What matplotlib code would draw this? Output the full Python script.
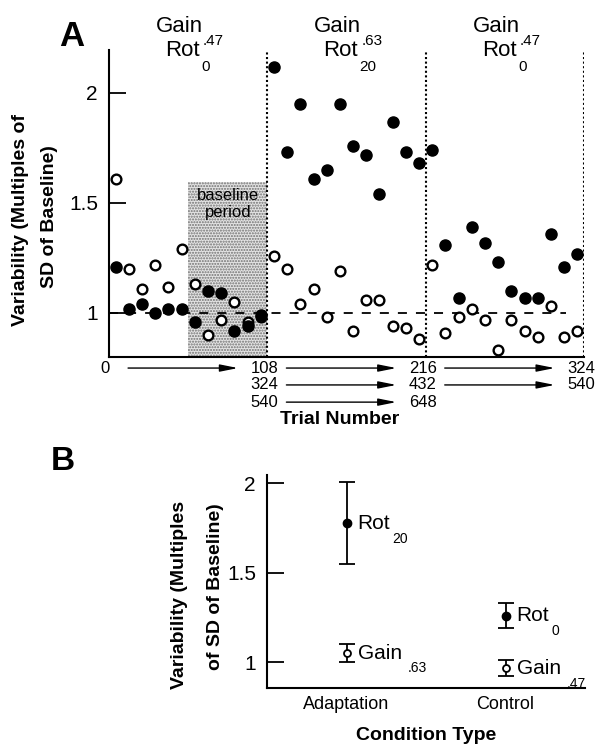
import numpy as np
import matplotlib
matplotlib.use("Agg")
import matplotlib.pyplot as plt

plt.rcParams['font.family'] = ['Liberation Sans', 'DejaVu Sans']
NARROW = ['Liberation Sans Narrow', 'Liberation Sans', 'DejaVu Sans']

# ------------------------------------------------------------
# Panel A data: 12 bins of 9 trials per 108-trial block
# ------------------------------------------------------------
bin_width = 9
block_len = 108
block_starts = [0, 108, 216]

filled_a = [
    [1.21, 1.02, 1.04, 1.00, 1.02, 1.02, 0.96, 1.10, 1.09, 0.92, 0.94, 0.99],
    [2.12, 1.73, 1.95, 1.61, 1.65, 1.95, 1.76, 1.72, 1.54, 1.87, 1.73, 1.68],
    [1.74, 1.31, 1.07, 1.39, 1.32, 1.23, 1.10, 1.07, 1.07, 1.36, 1.21, 1.27],
]
open_a = [
    [1.61, 1.20, 1.11, 1.22, 1.12, 1.29, 1.13, 0.90, 0.97, 1.05, 0.96, 0.98],
    [1.26, 1.20, 1.04, 1.11, 0.98, 1.19, 0.92, 1.06, 1.06, 0.94, 0.93, 0.88],
    [1.22, 0.91, 0.98, 1.02, 0.97, 0.83, 0.97, 0.92, 0.89, 1.03, 0.89, 0.92],
]
gain_labels = [".47", ".63", ".47"]
rot_labels = ["0", "20", "0"]

row1_labels = ["108", "216", "324"]
row2_labels = ["324", "432", "540"]
row3_labels = ["540", "648"]

baseline_start, baseline_end = 54, 108

# ------------------------------------------------------------
# Panel B data
# ------------------------------------------------------------
conditions = ["Adaptation", "Control"]
rot_mean = [1.775, 1.26]
rot_err = [0.23, 0.07]
rot_names = ["20", "0"]
gain_mean = [1.05, 0.965]
gain_err = [0.05, 0.045]
gain_names = [".63", ".47"]

fig = plt.figure(figsize=(5.97, 7.48), dpi=100)

# ------------------------------------------------------------
# Panel A
# ------------------------------------------------------------
ax = fig.add_axes([109 / 597, 1 - 357 / 748, 475 / 597, 307 / 748])
ax.set_xlim(0, 324)
ax.set_ylim(0.8, 2.195)

ax.bar(baseline_start, 1.595 - 0.8, width=baseline_end - baseline_start,
       bottom=0.8, align="edge", facecolor="#e4e4e4", edgecolor="#707070",
       hatch="......", linewidth=0, zorder=0)
ax.text((baseline_start + baseline_end) / 2, 1.535, "baseline", ha="center",
        va="center", fontsize=12, zorder=1)
ax.text((baseline_start + baseline_end) / 2, 1.455, "period", ha="center",
        va="center", fontsize=12, zorder=1)

ax.plot([0, 312], [1, 1], color="k", lw=1.3, ls=(0, (5, 5)), zorder=1)

for s, fv, ov in zip(block_starts, filled_a, open_a):
    xs = s + bin_width / 2 + bin_width * np.arange(len(fv))
    ax.plot(xs, ov, "o", ms=7, mfc="white", mec="k", mew=1.7, ls="none", zorder=3)
    ax.plot(xs, fv, "o", ms=8, mfc="k", mec="k", ls="none", zorder=4)
    ax.axvline(s + block_len, color="k", lw=1.5, ls=(0, (1, 1.2)), zorder=2)

# block headers
for s, g, r in zip(block_starts, gain_labels, rot_labels):
    ax.text(s + 48, 2.30, "Gain", ha="center", va="center", fontsize=16, clip_on=False)
    ax.text(s + 50, 2.195, "Rot", ha="center", va="center", fontsize=16, clip_on=False)
    ax.text(s + 64, 2.235, g, ha="left", va="center", fontsize=11, clip_on=False)
    ax.text(s + 63, 2.12, r, ha="left", va="center", fontsize=11, clip_on=False)

ax.spines["top"].set_visible(False)
ax.spines["right"].set_visible(False)
ax.spines["left"].set_linewidth(1.5)
ax.spines["bottom"].set_linewidth(1.5)
ax.set_yticks([1, 1.5, 2])
ax.set_yticklabels(["1", "1.5", "2"])
ax.tick_params(axis="y", direction="in", length=12, width=1.3, labelsize=15, pad=8)
ax.set_xticks([])

# trial number rows below the axis
trans = ax.get_xaxis_transform()
row_y = [-0.036, -0.091, -0.147]
num_size = 12
ax.text(-3, row_y[0], "0", transform=trans, ha="center", va="center", fontsize=num_size)
for k, lab in enumerate(row1_labels):
    ax.text(block_starts[k] + block_len - 2, row_y[0], lab, transform=trans,
            ha="center", va="center", fontsize=num_size)
for k, lab in enumerate(row2_labels):
    ax.text(block_starts[k] + block_len - 2, row_y[1], lab, transform=trans,
            ha="center", va="center", fontsize=num_size)
for k, lab in enumerate(row3_labels):
    ax.text(block_starts[k] + block_len - 2, row_y[2], lab, transform=trans,
            ha="center", va="center", fontsize=num_size)

arrow_rows = [(0, [0, 108, 216]), (1, [108, 216]), (2, [108])]
for r, starts in arrow_rows:
    for s in starts:
        ax.annotate("", xy=(s + 88, row_y[r]), xytext=(s + 13, row_y[r]),
                    xycoords=trans, textcoords=trans,
                    arrowprops=dict(arrowstyle="-|>,head_length=0.9,head_width=0.18",
                                    color="k", lw=1.0, shrinkA=0, shrinkB=0,
                                    mutation_scale=12))

ax.text(0.486, -0.203, "Trial Number", transform=ax.transAxes, ha="center",
        va="center", fontsize=14, fontweight="bold", family=NARROW)

fig.text(21 / 597, 1 - 220 / 748, "Variability (Multiples of", rotation=90,
         ha="center", va="center", fontsize=14, fontweight="bold", family=NARROW)
fig.text(50 / 597, 1 - 217 / 748, "SD of Baseline)", rotation=90,
         ha="center", va="center", fontsize=14, fontweight="bold", family=NARROW)
fig.text(72 / 597, 1 - 37 / 748, "A", ha="center", va="center", fontsize=25,
         fontweight="heavy")

# ------------------------------------------------------------
# Panel B
# ------------------------------------------------------------
bx = fig.add_axes([267 / 597, 1 - 688 / 748, 318 / 597, 213 / 748])
bx.set_xlim(-0.5, 1.5)
bx.set_ylim(0.855, 2.045)
xpos = np.arange(len(conditions))

bx.errorbar(xpos, rot_mean, yerr=rot_err, fmt="o", ms=6, mfc="k", mec="k",
            ecolor="k", elinewidth=1.3, capsize=6, capthick=1.3)
bx.errorbar(xpos, gain_mean, yerr=gain_err, fmt="o", ms=5, mfc="white", mec="k",
            mew=1.3, ecolor="k", elinewidth=1.3, capsize=6, capthick=1.3)

for x, m, nm in zip(xpos, rot_mean, rot_names):
    bx.annotate("Rot", (x, m), xytext=(8, 0), textcoords="offset points",
                ha="left", va="center", fontsize=15)
    bx.annotate(nm, (x, m), xytext=(33, -11), textcoords="offset points",
                ha="left", va="center", fontsize=10)
for x, m, nm in zip(xpos, gain_mean, gain_names):
    bx.annotate("Gain", (x, m), xytext=(8, 0), textcoords="offset points",
                ha="left", va="center", fontsize=15)
    bx.annotate(nm, (x, m), xytext=(44, -11), textcoords="offset points",
                ha="left", va="center", fontsize=10)

bx.spines["top"].set_visible(False)
bx.spines["right"].set_visible(False)
bx.spines["left"].set_linewidth(1.5)
bx.spines["bottom"].set_linewidth(1.5)
bx.set_yticks([1, 1.5, 2])
bx.set_yticklabels(["1", "1.5", "2"])
bx.tick_params(axis="y", direction="in", length=12, width=1.3, labelsize=15, pad=8)
bx.set_xticks(xpos)
bx.set_xticklabels(conditions, fontsize=13, family=NARROW)
bx.tick_params(axis="x", length=0, pad=6)
bx.set_xlabel("Condition Type", fontsize=14, fontweight="bold", family=NARROW,
              labelpad=10)

fig.text(180 / 597, 1 - 595 / 748, "Variability (Multiples", rotation=90,
         ha="center", va="center", fontsize=14, fontweight="bold", family=NARROW)
fig.text(215 / 597, 1 - 587 / 748, "of SD of Baseline)", rotation=90,
         ha="center", va="center", fontsize=14, fontweight="bold", family=NARROW)
fig.text(63 / 597, 1 - 462 / 748, "B", ha="center", va="center", fontsize=24,
         fontweight="heavy")

fig.savefig("out.png", dpi=100)
